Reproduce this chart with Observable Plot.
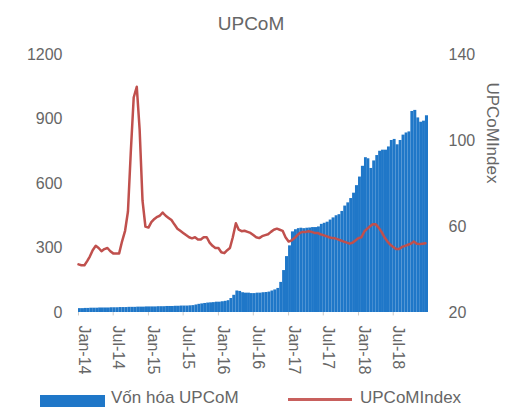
<!DOCTYPE html>
<html><head><meta charset="utf-8">
<script src="https://cdn.jsdelivr.net/npm/d3@7"></script>
<script src="https://cdn.jsdelivr.net/npm/@observablehq/plot@0.6"></script>
<style>
body{margin:0;background:#fff;font-family:"Liberation Sans",Arial,sans-serif;}
#wrap{position:relative;width:519px;height:407px;overflow:hidden;background:#fff;}
#title{position:absolute;left:0;width:502px;top:12px;line-height:24px;text-align:center;font-size:19px;color:#666;}
.lg{position:absolute;font-size:17px;color:#666;line-height:20px;white-space:nowrap;}
#chart{position:absolute;left:0;top:0;}
</style></head><body><div id="wrap"><div id="chart"></div><div id="title"></div>
<div id="lgBar" style="position:absolute;left:40px;top:395px;width:65px;height:12px;background:#1f77c8"></div>
<div id="lgBarText" class="lg" style="left:111px;top:388px"></div>
<div id="lgLine" style="position:absolute;left:288px;top:398px;width:64px;height:3px;background:#c8605d"></div>
<div id="lgLineText" class="lg" style="left:360px;top:388px"></div>
</div>
<script>
const title = "UPCoM";
const barLabel = "Vốn hóa UPCoM";
const lineLabel = "UPCoMIndex";
const startDate = "2014-01-01";
const endDate = "2019-01-01";
// half-month periods, Jan 2014 .. Dec 2018
const capValues = [
 18,18,19,19,20,20,20,21,21,21,
 21,22,22,22,23,23,23,24,24,24,
 25,25,25,26,26,26,26,27,27,27,
 28,28,28,29,29,30,30,30,31,32,
 35,38,40,42,44,45,46,48,48,50,
 52,55,65,80,100,98,92,90,90,88,
 88,90,90,92,93,95,100,105,112,140,
 195,260,310,375,385,390,392,390,392,393,
 395,395,398,410,415,420,430,440,450,455,
 470,495,510,530,555,590,630,680,720,715,
 670,705,730,750,755,755,770,800,805,780,
 800,825,835,840,935,940,905,885,890,915
];
const indexValues = [
 42.4,42,42,44,46,49,51,50,48.5,49.5,
 50,48.5,47.5,47.5,47.5,53,58,67,95,120,
 125,105,72,60,59.5,62,63.5,64.5,65,66.5,
 65,64,63,61,59,58,57,56,55,54.5,
 55,54,54,55,55,52.5,51,50,50,48,
 47.6,49,50,55,61.5,58.5,57.8,58,57.5,57,
 56,55,54.6,55.5,56,56.4,57.5,58.5,59,58.5,
 58,55,53,53.5,54.6,56,57,57.5,57.5,57.8,
 57.5,57,57,56.4,56,55.5,55,54.6,54.5,54,
 53.5,53,52.5,52,52.5,53.5,54.6,55,57.8,59,
 60,61,61,59.5,57.5,55,53,51.5,50.5,49.5,
 49.5,50.5,51,51.5,52,53,52,51.8,52,52.2
];
const leftTicks = [0,300,600,900,1200];
const rightTicks = [20,60,100,140];
const xTickLabels = ["Jan-14","Jul-14","Jan-15","Jul-15","Jan-16","Jul-16","Jan-17","Jul-17","Jan-18","Jul-18"];
const xTickDates = ["2014-01-01","2014-07-01","2015-01-01","2015-07-01","2016-01-01","2016-07-01","2017-01-01","2017-07-01","2018-01-01","2018-07-01"];

const rMin = 20, rMax = 140, lMax = 1200;
const toLeft = v => (v - rMin) / (rMax - rMin) * lMax;
const fromLeft = v => String(Math.round(v / lMax * (rMax - rMin) + rMin));

const start = new Date(startDate);
const periodStart = i => {
  const m = d3.utcMonth.offset(start, Math.floor(i / 2));
  return i % 2 ? d3.utcDay.offset(m, 15) : m;
};
const rows = capValues.map((c, i) => ({d0: periodStart(i), d1: periodStart(i + 1), cap: c, idx: indexValues[i]}));
const xt = xTickDates.map((d, i) => ({date: new Date(d), label: xTickLabels[i]}));

const font = "Liberation Sans, Arial, sans-serif";
const chart = Plot.plot({
  width: 519, height: 407,
  marginLeft: 78, marginRight: 91, marginTop: 54, marginBottom: 95,
  x: {type: "utc", domain: [start, new Date(endDate)], axis: null},
  y: {domain: [0, lMax], axis: null},
  style: {fontFamily: font, color: "#666", background: "transparent", overflow: "visible"},
  marks: [
    Plot.rectY(rows, {x1: "d0", x2: "d1", y: "cap", fill: "#1f77c8", inset: 0}),
    Plot.line(rows, {x: "d0", y: d => toLeft(d.idx), stroke: "#c0504d", strokeWidth: 2.5, curve: "linear"}),
    Plot.ruleX(xt, {x: "date", y1: 0, y2: -16, stroke: "#ccc", strokeWidth: 1}),
    Plot.axisY({anchor: "left", ticks: leftTicks, tickFormat: d => String(d), tickSize: 0, tickPadding: 16, fontSize: 16, label: null, fill: "#666"}),
    Plot.axisY({anchor: "right", ticks: rightTicks.map(toLeft), tickFormat: fromLeft, tickSize: 0, tickPadding: 20, fontSize: 16, label: null, fill: "#666"}),
    Plot.text(xt, {x: "date", text: "label", frameAnchor: "bottom", dy: 13, rotate: 90, textAnchor: "start", fontSize: 16, fill: "#666"}),
    Plot.text([lineLabel], {text: d => d, frameAnchor: "right", dx: 64, rotate: 90, fontSize: 17, fill: "#666"})
  ]
});
document.getElementById("chart").appendChild(chart);
document.getElementById("title").textContent = title;
document.getElementById("lgBarText").textContent = barLabel;
document.getElementById("lgLineText").textContent = lineLabel;
</script></body></html>
